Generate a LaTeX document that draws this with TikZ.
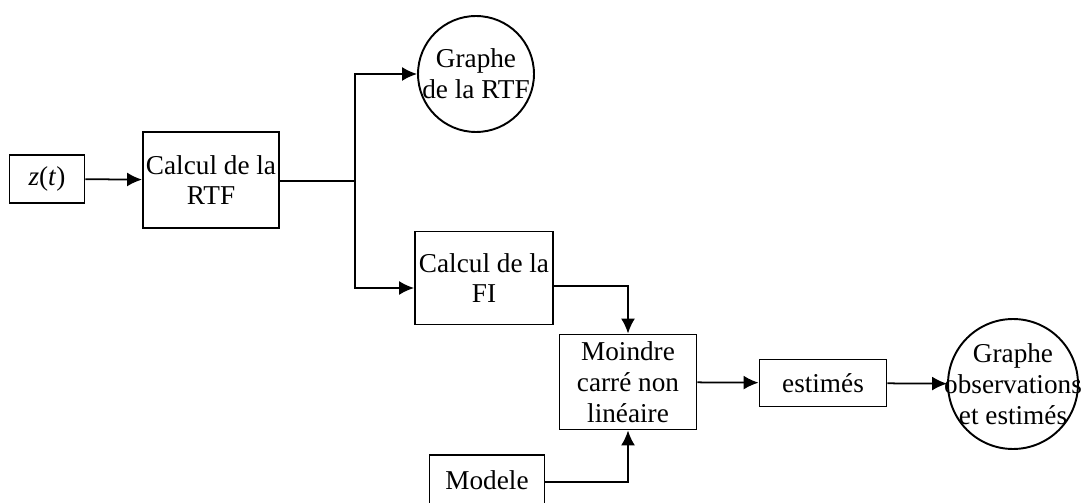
\documentclass[tikz,border=0pt]{standalone}
\usepackage{fontspec}
\setmainfont{Liberation Serif}
\usetikzlibrary{positioning, arrows.meta}

\tikzset{
  bloc/.style={draw, line width=1.1pt, align=center, inner sep=0pt, font=\fontsize{15.5}{17.5}\selectfont},
  rond/.style={draw, circle, line width=1.1pt, inner sep=0pt, align=center, font=\fontsize{15.5}{17.5}\selectfont},
  fleche/.style={line width=1pt, -{Latex[length=0.3cm, width=0.28cm]}},
  trait/.style={line width=1pt}
}

\begin{document}
\begin{tikzpicture}[x=0.02cm, y=-0.02cm]
\useasboundingbox (0,0) rectangle (1082,503);

\node[bloc, minimum width=1.5cm, minimum height=0.96cm](Z) at (47,179) {\textit{z}(\textit{t})};
\node[bloc, minimum width=2.72cm, minimum height=1.92cm](RTF) at (211,180) {Calcul de la\\RTF};
\node[rond, minimum size=2.32cm](GRTF) at (476,74) {\makebox[0pt]{Graphe}\\\makebox[0pt]{de la RTF}};
\node[bloc, minimum width=2.76cm, minimum height=1.86cm](FI) at (484,278) {Calcul de la\\FI};
\node[bloc, minimum width=2.74cm, minimum height=1.9cm](MCNL) at (628,382) {Moindre\\carré non\\linéaire};
\node[bloc, minimum width=2.54cm, minimum height=0.94cm](EST) at (823,383) {estimés};
\node[rond, minimum size=2.6cm](GOBS) at (1013,384) {\makebox[0pt]{Graphe}\\\makebox[0pt]{observations}\\\makebox[0pt]{et estimés}};
\node[bloc, minimum width=2.3cm, minimum height=1cm](MOD) at (487,480) {Modele};

\coordinate (J) at (355,181);

\path[fleche](Z)edge(RTF);
\path[trait](RTF.east|-J)edge(J);
\draw[fleche](J)|-(GRTF.west);
\draw[fleche](J)|-(FI.west|-0,288);
\draw[fleche](FI.east|-0,286)-|(MCNL.north);
\draw[fleche](MOD.east|-0,482)-|(MCNL.south);
\path[fleche](MCNL)edge(EST);
\path[fleche](EST)edge(GOBS);
\end{tikzpicture}
\end{document}
